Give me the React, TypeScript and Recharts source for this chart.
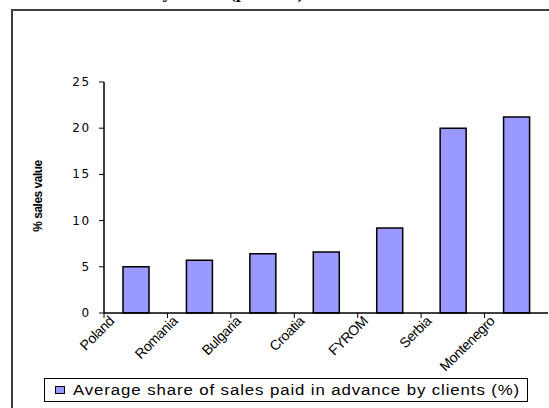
import { BarChart, Bar, XAxis, YAxis } from 'recharts';

const countries = ['Poland', 'Romania', 'Bulgaria', 'Croatia', 'FYROM', 'Serbia', 'Montenegro'];
const advanceShare = [5.0, 5.7, 6.4, 6.6, 9.2, 20.0, 21.2];
const yTicks = [0, 5, 10, 15, 20, 25];
const seriesName = 'Average share of sales paid in advance by clients (%)';

const data = countries.map((country, i) => ({ country, value: advanceShare[i] }));

const W = 549;
const H = 408;
const PLOT_LEFT = 104;
const PLOT_RIGHT = 548;
const BAND = (PLOT_RIGHT - PLOT_LEFT) / countries.length;

// labels sit on the category boundaries, like the original Excel chart
function CountryTick(props: any) {
  const { x, y, payload } = props;
  const bx = x - BAND / 2;
  return (
    <g>
      <line x1={bx} y1={y} x2={bx} y2={y + 5} stroke='#000' strokeWidth={1} />
      <text
        x={bx + 11}
        y={y + 9}
        transform={`rotate(-45, ${bx + 11}, ${y + 9})`}
        textAnchor='end'
        fontSize={14}
        letterSpacing={-0.4}
        fontFamily='Liberation Sans, Arial, sans-serif'
        fill='#000'
      >
        {payload.value}
      </text>
    </g>
  );
}

function ValueTick(props: any) {
  const { x, y, payload } = props;
  return (
    <text
      x={x}
      y={y}
      dy={4}
      textAnchor='end'
      fontSize={12}
      letterSpacing={1.8}
      fontFamily='DejaVu Sans, sans-serif'
      fill='#000'
    >
      {payload.value}
    </text>
  );
}

function LegendBox() {
  return (
    <div
      style={{
        position: 'absolute',
        left: 44,
        top: 378,
        boxSizing: 'border-box',
        width: 484,
        height: 24,
        border: '1px solid #000',
        background: '#fff',
        display: 'flex',
        alignItems: 'center',
        paddingLeft: 10,
        fontFamily: 'Liberation Sans, Arial, sans-serif',
        fontSize: 14,
        color: '#000',
      }}
    >
      <span
        style={{
          display: 'inline-block',
          width: 8,
          height: 6,
          background: '#9999FF',
          border: '1px solid #000',
          marginRight: 8,
        }}
      />
      <span
        style={{
          display: 'inline-block',
          whiteSpace: 'nowrap',
          letterSpacing: 0.75,
          transform: 'scaleX(1.2)',
          transformOrigin: 'left center',
        }}
      >
        {seriesName}
      </span>
    </div>
  );
}

export default function App() {
  return (
    <div
      style={{
        position: 'fixed',
        left: 0,
        top: 0,
        width: W,
        height: H,
        overflow: 'hidden',
        background: '#fff',
      }}
    >
      <div
        style={{
          position: 'absolute',
          top: -18,
          left: 35,
          fontFamily: 'Liberation Serif, Times New Roman, serif',
          fontWeight: 'bold',
          fontSize: 18,
          whiteSpace: 'nowrap',
        }}
      >
        Advance share by clients (per cent)
      </div>
      <div
        style={{
          position: 'absolute',
          left: 11,
          top: 9,
          width: 600,
          height: 500,
          border: '2px solid #404040',
        }}
      />
      <div
        style={{
          position: 'absolute',
          left: 38,
          top: 196,
          transform: 'translate(-50%, -50%) rotate(-90deg)',
          fontFamily: 'Liberation Sans, Arial, sans-serif',
          fontWeight: 'bold',
          fontSize: 12,
          letterSpacing: -0.5,
          whiteSpace: 'nowrap',
        }}
      >
        % sales value
      </div>
      <div style={{ position: 'absolute', left: 0, top: 0 }}>
        <BarChart width={W} height={H} data={data} margin={{ top: 82, right: W - PLOT_RIGHT, bottom: 0, left: 0 }}>
          <XAxis
            dataKey='country'
            height={95}
            interval={0}
            tickLine={false}
            tickSize={0}
            tickMargin={0}
            axisLine={{ stroke: '#000', strokeWidth: 1.5 }}
            tick={<CountryTick />}
          />
          <XAxis
            xAxisId='top'
            orientation='top'
            dataKey='country'
            height={0}
            tick={false}
            tickLine={false}
            axisLine={{ stroke: '#a0a0a0', strokeWidth: 1.5 }}
          />
          <YAxis
            width={PLOT_LEFT}
            domain={[0, 25]}
            ticks={yTicks}
            interval={0}
            tickSize={5}
            tickMargin={8}
            tickLine={{ stroke: '#000' }}
            axisLine={{ stroke: '#000', strokeWidth: 1.5 }}
            tick={<ValueTick />}
          />
          <YAxis
            yAxisId='right'
            orientation='right'
            width={0}
            domain={[0, 25]}
            tick={false}
            tickLine={false}
            axisLine={{ stroke: '#a0a0a0', strokeWidth: 1.5 }}
          />
          <Bar
            dataKey='value'
            name={seriesName}
            fill='#9999FF'
            stroke='#000'
            strokeWidth={1.5}
            barSize={26}
            isAnimationActive={false}
          />
        </BarChart>
      </div>
      <LegendBox />
    </div>
  );
}
